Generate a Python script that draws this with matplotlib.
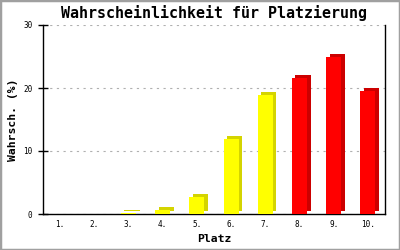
import matplotlib.pyplot as plt
import matplotlib.transforms as mtransforms
from matplotlib.patches import Rectangle

# Daten
plaetze = ["1.", "2.", "3.", "4.", "5.", "6.", "7.", "8.", "9.", "10."]
wahrsch = [0, 0, 0.2, 0.6, 2.7, 11.9, 18.9, 21.6, 25.0, 19.6]
farben = ["#ffff00"] * 7 + ["#ff0000"] * 3
farben_dunkel = ["#d4d400"] * 7 + ["#cc0000"] * 3

plt.rcParams['font.family'] = ['DejaVu Sans Mono']

fig = plt.figure(figsize=(4, 2.5), dpi=100)
ax = fig.add_axes([0.1075, 0.144, 0.855, 0.756])

x = list(range(1, len(plaetze) + 1))

# 3D-Effekt: dunklere, versetzte Balken dahinter
versatz = ax.transData + mtransforms.ScaledTranslation(3.5 / 100, 3 / 100, fig.dpi_scale_trans)
ax.bar(x, wahrsch, width=0.44, color=farben_dunkel, transform=versatz, zorder=2, linewidth=0)
ax.bar(x, wahrsch, width=0.44, color=farben, zorder=3, linewidth=0)

ax.set_xlim(0.5, 10.5)
ax.set_ylim(0, 30)
ax.set_yticks([0, 10, 20, 30])
ax.set_xticks(x)
ax.set_xticklabels(plaetze)
ax.grid(axis='y', linestyle=(0, (2, 4)), color='#b0b0b0', linewidth=0.8, zorder=0)
ax.set_axisbelow(True)

ax.spines['top'].set_visible(False)
for s in ['left', 'right', 'bottom']:
    ax.spines[s].set_linewidth(1.0)
ax.tick_params(axis='y', direction='inout', length=7, width=1, labelsize=5.5, pad=4)
ax.tick_params(axis='x', length=0, labelsize=5.5, pad=4)

ax.set_title("Wahrscheinlichkeit für Platzierung", fontsize=10.8, fontweight='bold', pad=5)
ax.set_xlabel("Platz", fontsize=8.2, fontweight='bold', labelpad=4)
ax.set_ylabel("Wahrsch. (%)", fontsize=8.2, fontweight='bold', labelpad=4)

# grauer Rahmen um das Bild
fig.patches.append(Rectangle((0, 0), 1, 1, transform=fig.transFigure, fill=False,
                             edgecolor='#a0a0a0', linewidth=2.5))

fig.savefig("out.png", dpi=100)
